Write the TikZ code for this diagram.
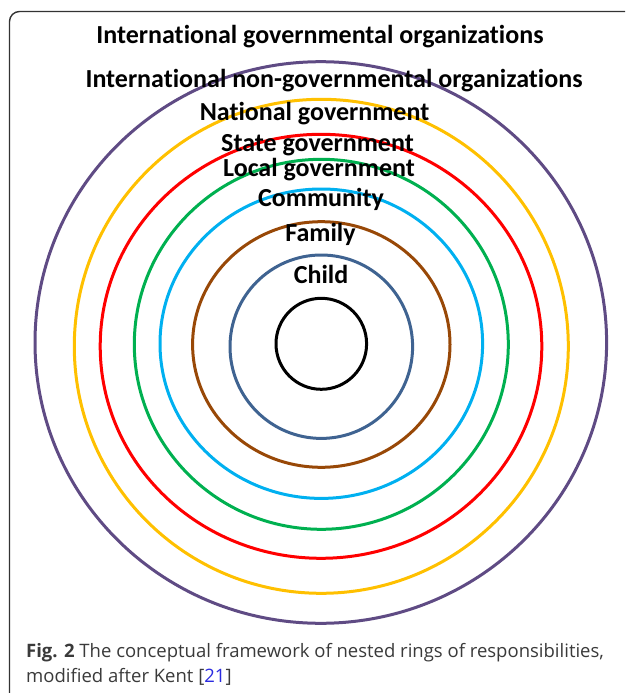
\documentclass[tikz,border=0pt]{standalone}
\usepackage{fontspec}
\setmainfont{Carlito}[Ligatures=NoCommon]
\newfontfamily\capfont{Open Sans}
\definecolor{cpurple}{HTML}{5F4B84}
\definecolor{cyellow}{HTML}{FFC000}
\definecolor{cred}{HTML}{FF0000}
\definecolor{cgreen}{HTML}{00B050}
\definecolor{ccyan}{HTML}{00B0F0}
\definecolor{cbrown}{HTML}{984807}
\definecolor{cslate}{HTML}{3F6391}
\definecolor{capgray}{HTML}{3A3A3A}
\definecolor{refblue}{HTML}{2A2AE0}
\begin{document}
\begin{tikzpicture}[x=1pt,y=-1pt,
  ring/.style={line width=3pt},
  lbl/.style={anchor=base,inner sep=0pt,font=\fontsize{26}{28}\selectfont\bfseries},
  captext/.style={anchor=base west,inner sep=0pt,font=\capfont\fontsize{18.5}{20}\selectfont,text=capgray}]
\useasboundingbox (0,0) rectangle (625,693);
\begin{scope}
\clip (0,0) rectangle (625,693);
\draw[line width=1.4pt,draw=black!80,rounded corners=10pt] (9.5,11.5) rectangle (660,720);
\end{scope}
\draw[ring,cpurple] (320.8,342.5) ellipse [x radius=285.8, y radius=280.8];
\draw[ring,cyellow] (321.3,346.3) ellipse [x radius=247, y radius=247];
\draw[ring,cred] (321,346.3) ellipse [x radius=220.8, y radius=212];
\draw[ring,cgreen] (321.3,344.3) ellipse [x radius=187, y radius=185];
\draw[ring,ccyan] (321.3,343.7) ellipse [x radius=161.3, y radius=154.7];
\draw[ring,cbrown] (321.3,344.5) ellipse [x radius=128.7, y radius=122.8];
\draw[ring,cslate] (321.3,346.7) ellipse [x radius=91.3, y radius=91.7];
\draw[ring,black] (321.3,343.8) ellipse [x radius=45.3, y radius=45.5];
\node[lbl] (igo) at (320,44) {International governmental organizations};
\node[lbl] (ingo) at (334,87.3) {International non-governmental organizations};
\node[lbl] (nat) at (314.5,120) {National government};
\node[lbl] (state) at (317.5,151) {State government};
\node[lbl] (local) at (319,176.7) {Local government};
\node[lbl] (comm) at (321,206) {Community};
\node[lbl] (fam) at (320.5,241.7) {Family};
\node[lbl] (child) at (321,283.3) {Child};
\node[captext] (cap1) at (26,657.3) {\textbf{Fig. 2} The conceptual framework of nested rings of responsibilities,};
\node[captext] (cap2) at (26,682.7) {modified after Kent [\textcolor{refblue}{21}]};
\end{tikzpicture}
\end{document}
